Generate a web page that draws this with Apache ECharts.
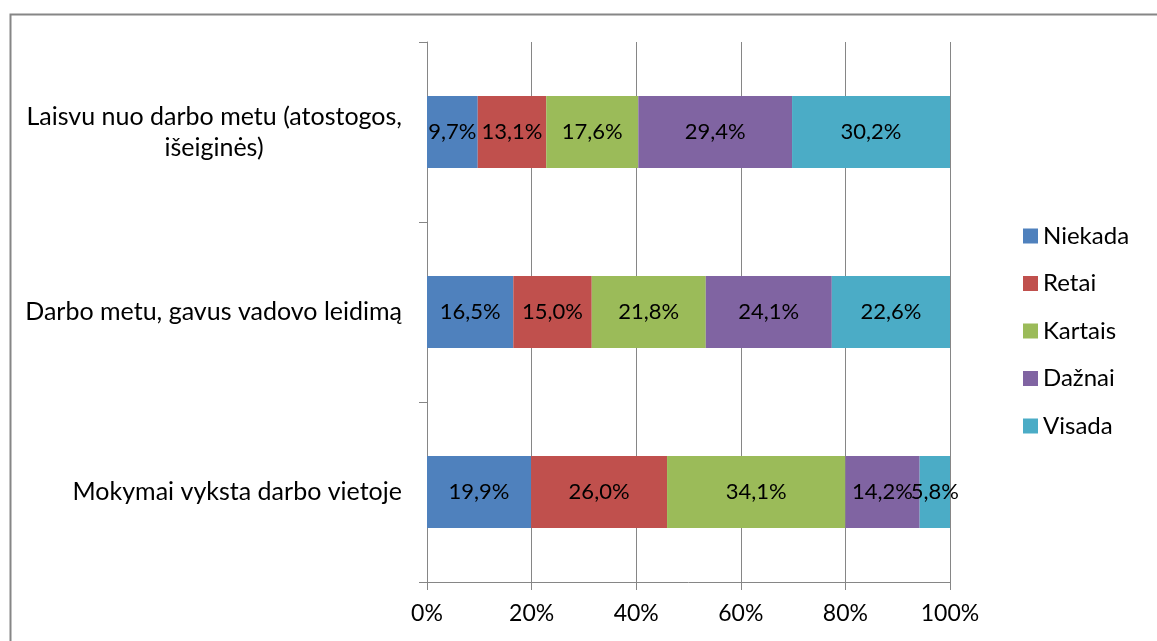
<!DOCTYPE html>
<html>
<head>
<meta charset="utf-8">
<script src="https://cdn.jsdelivr.net/npm/echarts@6/dist/echarts.min.js"></script>
<style>
html,body{margin:0;padding:0;background:#fff;}
#chart{width:1157px;height:641px;}
</style>
</head>
<body>
<div id="chart"></div>
<script>
const categories = ['Mokymai vyksta darbo vietoje', 'Darbo metu, gavus vadovo leidimą', 'Laisvu nuo darbo metu (atostogos, išeiginės)'];
const seriesNames = ['Niekada', 'Retai', 'Kartais', 'Dažnai', 'Visada'];
const niekada = [19.9, 16.5, 9.7];
const retai = [26.0, 15.0, 13.1];
const kartais = [34.1, 21.8, 17.6];
const daznai = [14.2, 24.1, 29.4];
const visada = [5.8, 22.6, 30.2];
const xTicks = [0, 20, 40, 60, 80, 100];
const colors = ['#4F81BD', '#C0504D', '#9BBB59', '#8064A2', '#4BACC6'];

const FONT = 'Lato';
const FS_CAT = 25, FS_DATA = 22, FS_AXIS = 23, FS_LEG = 24;
const values = [niekada, retai, kartais, daznai, visada];

function measure(t, fs) {
  const c = document.createElement('canvas').getContext('2d');
  c.font = fs + 'px ' + FONT;
  return Math.ceil(c.measureText(t).width);
}

const chart = echarts.init(document.getElementById('chart'), null, {renderer: 'canvas'});
chart.setOption({
  animation: false,
  color: colors,
  textStyle: {fontFamily: FONT},
  graphic: [{
    type: 'rect', left: 8, top: 12, silent: true,
    shape: {x: 0, y: 0, width: 1200, height: 700},
    style: {fill: 'none', stroke: '#868686', lineWidth: 2}
  }],
  grid: {left: 427, right: 207, top: 42, bottom: 59, containLabel: false},
  legend: {
    orient: 'vertical', left: 1023, top: 224, padding: 0,
    itemWidth: 15, itemHeight: 15, itemGap: 23.5,
    icon: 'rect',
    textStyle: {fontFamily: FONT, fontSize: FS_LEG, color: '#000', lineHeight: 24},
    data: seriesNames
  },
  xAxis: {
    type: 'value', min: 0, max: 100, interval: 20,
    axisLine: {show: true, lineStyle: {color: '#868686', width: 1}},
    axisTick: {show: true, length: 8, lineStyle: {color: '#868686'}},
    splitLine: {show: true, lineStyle: {color: '#868686', width: 1}},
    axisLabel: {
      margin: 20, color: '#000', fontFamily: FONT, fontSize: FS_AXIS,
      formatter: v => v + '%'
    }
  },
  yAxis: {
    type: 'category', data: categories,
    axisLine: {show: true, lineStyle: {color: '#868686', width: 1}},
    axisTick: {show: true, length: 8, lineStyle: {color: '#868686'}},
    axisLabel: {
      margin: 25, color: '#000', fontFamily: FONT, fontSize: FS_CAT, align: 'right',
      formatter: function (v) {
        if (v.indexOf('(atostogos,') >= 0) {
          const i = v.indexOf('išeiginės');
          const l1 = v.slice(0, i).trim(), l2 = v.slice(i);
          return '{c|' + l1 + '}\n{w|' + l2 + '}';
        }
        return v;
      },
      rich: {
        c: {fontFamily: FONT, fontSize: FS_CAT, color: '#000', lineHeight: 31},
        w: {fontFamily: FONT, fontSize: FS_CAT, color: '#000', lineHeight: 31, align: 'center',
            width: measure('Laisvu nuo darbo metu (atostogos,', FS_CAT)}
      }
    }
  },
  series: seriesNames.map((n, k) => ({
    name: n, type: 'bar', stack: 'all', barWidth: '40%',
    data: values[k],
    label: {
      show: true, position: 'inside', color: '#000',
      fontFamily: FONT, fontSize: FS_DATA,
      formatter: p => p.value.toFixed(1).replace('.', ',') + '%'
    }
  }))
});
</script>
</body>
</html>
